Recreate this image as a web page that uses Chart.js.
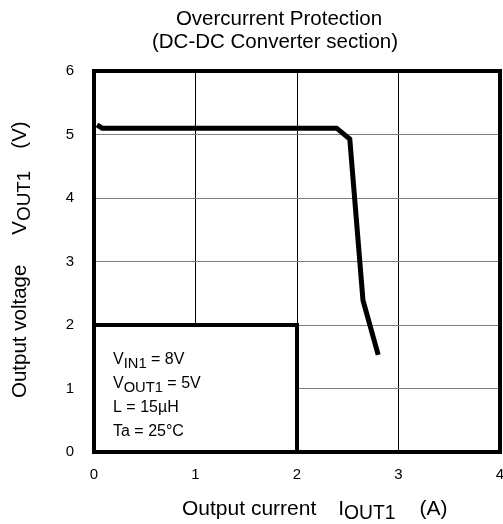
<!DOCTYPE html>
<html lang="en">
<head>
<meta charset="UTF-8">
<title>Overcurrent Protection</title>
<script src="https://cdn.jsdelivr.net/npm/chart.js"></script>
<style>
    html, body { margin: 0; padding: 0; background: #fff; }
    canvas { display: block; }
</style>
</head>
<body>
<canvas id="ocpChart" width="503" height="524"></canvas>
<script>
    // values
    const currentA = [0.03, 0.08, 2.39, 2.52, 2.65, 2.80];
    const voltageV = [5.15, 5.10, 5.10, 4.93, 2.39, 1.53];

    const xTicks = [0, 1, 2, 3, 4];
    const yTicks = [0, 1, 2, 3, 4, 5, 6];

    const titleLines = ['Overcurrent Protection', '(DC-DC Converter section)'];
    const conditions = [
        [['V', false], ['IN1', true], [' = 8V', false]],
        [['V', false], ['OUT1', true], [' = 5V', false]],
        [['L = 15\u00b5H', false]],
        [['Ta = 25\u00b0C', false]]
    ];
    // third item of a part = gap in px after it
    const xTitle = [['Output current', false, 22], ['I', false, 0], ['OUT1', true, 24], ['(A)', false, 0]];
    const yTitle = [['Output voltage', false, 30], ['V', false, 0], ['OUT1', true, 22], ['(V)', false, 0]];

    const FONT = '"Liberation Sans", Arial, sans-serif';

    function richWidth(ctx, parts, size) {
        let w = 0;
        parts.forEach(p => {
            ctx.font = (p[1] ? size * 0.92 : size) + 'px ' + FONT;
            w += ctx.measureText(p[0]).width + (p[2] || 0);
        });
        return w;
    }

    function drawRich(ctx, parts, x, y, size) {
        let cx = x;
        parts.forEach(p => {
            ctx.font = (p[1] ? size * 0.92 : size) + 'px ' + FONT;
            ctx.fillText(p[0], cx, p[1] ? y + 4 : y);
            cx += ctx.measureText(p[0]).width + (p[2] || 0);
        });
    }

    const decorPlugin = {
        id: 'decor',
        afterDatasetsDraw(chart) {
            const ctx = chart.ctx;
            const xs = chart.scales.x, ys = chart.scales.y;
            const a = chart.chartArea;
            ctx.save();
            ctx.fillStyle = '#000';
            ctx.textBaseline = 'alphabetic';
            ctx.textAlign = 'left';

            // conditions box (0..2 A, 0..2 V)
            const bx = xs.getPixelForValue(0), bx2 = xs.getPixelForValue(2);
            const by = ys.getPixelForValue(2), by2 = ys.getPixelForValue(0);
            ctx.fillStyle = '#fff';
            ctx.fillRect(bx, by, bx2 - bx, by2 - by);
            ctx.strokeStyle = '#000';
            ctx.lineWidth = 4;
            ctx.strokeRect(bx, by, bx2 - bx, by2 - by);
            ctx.fillStyle = '#000';
            conditions.forEach((line, i) => {
                drawRich(ctx, line, bx + 19, by + 39 + i * 24, 16);
            });

            // frame
            ctx.lineWidth = 4;
            ctx.strokeRect(a.left, a.top, a.right - a.left, a.bottom - a.top);

            // title
            ctx.textAlign = 'center';
            ctx.font = '20.5px ' + FONT;
            ctx.fillText(titleLines[0], 279, 25);
            ctx.fillText(titleLines[1], 275, 48);

            // x axis title
            ctx.textAlign = 'left';
            drawRich(ctx, xTitle, 182, 515, 21);

            // y axis title
            ctx.translate(26, 398);
            ctx.rotate(-Math.PI / 2);
            drawRich(ctx, yTitle, 0, 0, 20.5);
            ctx.restore();
        }
    };

    new Chart(document.getElementById('ocpChart'), {
        type: 'line',
        data: {
            datasets: [{
                data: currentA.map((c, i) => ({ x: c, y: voltageV[i] })),
                borderColor: '#000',
                borderWidth: 5,
                pointRadius: 0,
                tension: 0,
                fill: false
            }]
        },
        options: {
            responsive: false,
            animation: false,
            layout: { padding: { top: 71, right: 3, left: 0, bottom: 0 } },
            plugins: { legend: { display: false }, tooltip: { enabled: false } },
            scales: {
                x: {
                    type: 'linear',
                    min: xTicks[0],
                    max: xTicks[xTicks.length - 1],
                    afterFit(scale) {
                        scale.height = 72;
                        scale.paddingLeft = 0;
                        scale.paddingRight = 0;
                    },
                    afterBuildTicks(scale) { scale.ticks = xTicks.map(v => ({ value: v })); },
                    grid: { color: '#000', lineWidth: 1, drawTicks: false },
                    border: { display: false },
                    ticks: { color: '#000', padding: 14, font: { family: FONT, size: 15 } }
                },
                y: {
                    type: 'linear',
                    min: yTicks[0],
                    max: yTicks[yTicks.length - 1],
                    afterFit(scale) {
                        scale.width = 94;
                        scale.paddingTop = 0;
                        scale.paddingBottom = 0;
                    },
                    afterBuildTicks(scale) { scale.ticks = yTicks.map(v => ({ value: v })); },
                    grid: { color: '#808080', lineWidth: 1, drawTicks: false },
                    border: { display: false },
                    ticks: { color: '#000', padding: 20, font: { family: FONT, size: 15 } }
                }
            }
        },
        plugins: [decorPlugin]
    });
</script>
</body>
</html>
